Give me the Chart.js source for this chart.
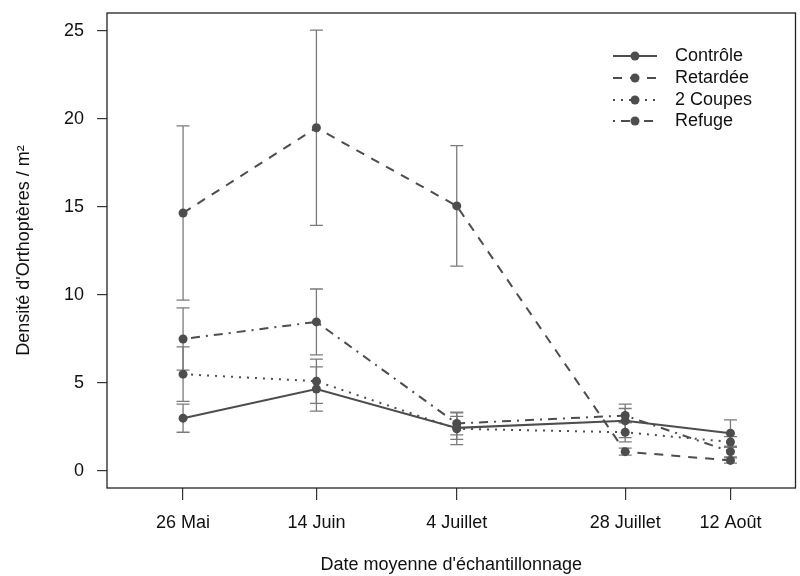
<!DOCTYPE html>
<html>
<head>
<meta charset="utf-8">
<script src="https://cdn.jsdelivr.net/npm/chart.js@4/dist/chart.umd.min.js"></script>
<style>
  html, body { margin: 0; padding: 0; background: #fff; }
</style>
</head>
<body>
<canvas id="graph" width="800" height="576"></canvas>
<script>
// Dates (jour de l'année) et étiquettes
const dates = [146, 165, 185, 209, 224];
const dateLabels = ['26 Mai', '14 Juin', '4 Juillet', '28 Juillet', '12 Août'];
const yTicks = [0, 5, 10, 15, 20, 25];

// Moyennes et erreurs par traitement
const controle = [3.0, 4.66, 2.45, 2.85, 2.15];
const controleErr = [0.8, 1.26, 0.65, 0.95, 0.75];
const retardee = [14.66, 19.5, 15.06, 1.1, 0.6];
const retardeeErr = [4.95, 5.55, 3.42, 0.2, 0.15];
const coupes = [5.5, 5.1, 2.4, 2.2, 1.65];
const coupesErr = [1.55, 1.26, 0.9, 0.55, 0.3];
const refuge = [7.5, 8.47, 2.7, 3.15, 1.1];
const refugeErr = [1.77, 1.87, 0.65, 0.4, 0.3];

const police = '"Liberation Sans", Arial, sans-serif';
const gris = '#4d4d4d';

function serie(label, vals, errs, dash) {
    return {
        label: label,
        data: vals.map((v, i) => ({ x: dates[i], y: v })),
        errs: errs,
        borderColor: gris,
        backgroundColor: gris,
        borderWidth: 2,
        borderDash: dash,
        pointRadius: 4.5,
        pointBorderWidth: 0,
        tension: 0
    };
}

const traitements = [
    serie('Contrôle', controle, controleErr, []),
    serie('Retardée', retardee, retardeeErr, [9, 8]),
    serie('2 Coupes', coupes, coupesErr, [2, 6]),
    serie('Refuge', refuge, refugeErr, [2, 6, 9, 6])
];

// barres d'erreur, cadre et légende
const extras = {
    id: 'extras',
    beforeDatasetsDraw(chart) {
        const ctx = chart.ctx;
        const xs = chart.scales.x, ys = chart.scales.y;
        ctx.save();
        ctx.strokeStyle = '#7a7a7a';
        ctx.lineWidth = 1.3;
        chart.data.datasets.forEach(ds => {
            ds.data.forEach((p, i) => {
                const px = xs.getPixelForValue(p.x);
                const hi = ys.getPixelForValue(p.y + ds.errs[i]);
                const lo = ys.getPixelForValue(p.y - ds.errs[i]);
                ctx.beginPath();
                ctx.moveTo(px, hi); ctx.lineTo(px, lo);
                ctx.moveTo(px - 6.5, hi); ctx.lineTo(px + 6.5, hi);
                ctx.moveTo(px - 6.5, lo); ctx.lineTo(px + 6.5, lo);
                ctx.stroke();
            });
        });
        ctx.restore();
    },
    afterDraw(chart) {
        const ctx = chart.ctx;
        const a = chart.chartArea;
        ctx.save();
        ctx.strokeStyle = '#222';
        ctx.lineWidth = 1.3;
        ctx.strokeRect(a.left, a.top, a.right - a.left, a.bottom - a.top);

        // légende
        const ys = [56, 78, 100, 121];
        chart.data.datasets.forEach((ds, i) => {
            const y = ys[i];
            ctx.strokeStyle = gris;
            ctx.fillStyle = gris;
            ctx.lineWidth = 2;
            ctx.setLineDash(ds.borderDash);
            ctx.beginPath();
            ctx.moveTo(613, y); ctx.lineTo(657, y);
            ctx.stroke();
            ctx.setLineDash([]);
            ctx.beginPath();
            ctx.arc(635, y, 4.5, 0, Math.PI * 2);
            ctx.fill();
            ctx.fillStyle = '#111';
            ctx.font = '18px ' + police;
            ctx.textBaseline = 'middle';
            ctx.fillText(ds.label, 675, y);
        });
        ctx.restore();
    }
};

new Chart(document.getElementById('graph'), {
    type: 'line',
    data: { datasets: traitements },
    plugins: [extras],
    options: {
        responsive: false,
        animation: false,
        devicePixelRatio: 1,
        layout: { padding: { top: 13, right: 1, left: 0, bottom: 0 } },
        plugins: {
            legend: { display: false },
            tooltip: { enabled: false }
        },
        scales: {
            x: {
                type: 'linear',
                min: 135.16,
                max: 233.27,
                afterBuildTicks: s => { s.ticks = dates.map(v => ({ value: v })); },
                afterFit: s => { s.height = 88; s.paddingLeft = 0; s.paddingRight = 0; },
                grid: { drawOnChartArea: false, drawTicks: true, tickLength: 12, color: '#333', lineWidth: 1.2 },
                border: { display: false },
                ticks: {
                    autoSkip: false,
                    maxRotation: 0,
                    padding: 12,
                    color: '#111',
                    font: { family: police, size: 18 },
                    callback: v => dateLabels[dates.indexOf(v)]
                },
                title: {
                    display: true,
                    text: "Date moyenne d'échantillonnage",
                    color: '#111',
                    padding: 0,
                    font: { family: police, size: 18 }
                }
            },
            y: {
                min: -0.966,
                max: 26.02,
                afterBuildTicks: s => { s.ticks = yTicks.map(v => ({ value: v })); },
                afterFit: s => { s.width = 107; s.paddingTop = 0; s.paddingBottom = 0; },
                grid: { drawOnChartArea: false, drawTicks: true, tickLength: 10, color: '#333', lineWidth: 1.2 },
                border: { display: false },
                ticks: {
                    padding: 13,
                    color: '#111',
                    font: { family: police, size: 18 }
                },
                title: {
                    display: true,
                    text: "Densité d'Orthoptères / m²",
                    color: '#111',
                    padding: { top: 13, bottom: 0 },
                    font: { family: police, size: 18 }
                }
            }
        }
    }
});
</script>
</body>
</html>
